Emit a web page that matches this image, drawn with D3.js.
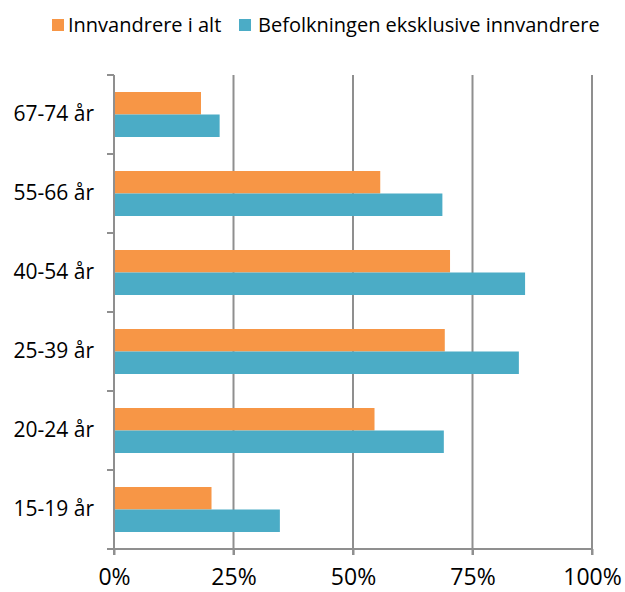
<!DOCTYPE html>
<html>
<head>
<meta charset="utf-8">
<script src="https://cdn.jsdelivr.net/npm/d3@7"></script>
<style>
  html, body { margin: 0; padding: 0; background: #fff; }
  svg { display: block; }
  text { font-family: "Open Sans", "Liberation Sans", sans-serif; fill: #000; }
</style>
</head>
<body>
<svg id="chart" width="625" height="592"></svg>
<script>
const categories = ["67-74 år", "55-66 år", "40-54 år", "25-39 år", "20-24 år", "15-19 år"];
const seriesNames = ["Innvandrere i alt", "Befolkningen eksklusive innvandrere"];
const innvandrere = [0.182, 0.557, 0.703, 0.692, 0.545, 0.204];
const befolkningen = [0.221, 0.687, 0.860, 0.847, 0.690, 0.347];
const tickValues = [0, 0.25, 0.5, 0.75, 1];
const tickLabels = ["0%", "25%", "50%", "75%", "100%"];
const colors = ["#F79646", "#4BACC6"];

const svg = d3.select("#chart");
const x = d3.scaleLinear().domain([0, 1]).range([114, 592]);
const y = d3.scaleBand().domain(categories).range([75, 549]).padding(0);
const ySub = d3.scaleBand().domain(seriesNames).range([17, 62]).padding(0);

const gridColor = "#8f8f8f";

// vertical gridlines
svg.append("g").selectAll("line").data(tickValues.slice(1)).join("line")
  .attr("x1", d => x(d)).attr("x2", d => x(d))
  .attr("y1", 75).attr("y2", 555)
  .attr("stroke", gridColor).attr("stroke-width", 2);

// bars
const rows = categories.map((c, i) => ({ c, vals: [innvandrere[i], befolkningen[i]] }));
const groups = svg.append("g").selectAll("g").data(rows).join("g")
  .attr("transform", d => `translate(0,${y(d.c)})`);
groups.selectAll("rect").data(d => d.vals.map((v, j) => ({ v, s: seriesNames[j], j }))).join("rect")
  .attr("x", x(0))
  .attr("y", d => ySub(d.s))
  .attr("width", d => x(d.v) - x(0))
  .attr("height", ySub.bandwidth())
  .attr("fill", d => colors[d.j]);

// x axis
const xAxis = d3.axisBottom(x).tickValues(tickValues).tickFormat((d, i) => tickLabels[i])
  .tickSize(6).tickSizeOuter(0).tickPadding(12);
const gx = svg.append("g").attr("transform", "translate(0,549)").call(xAxis);
gx.select(".domain").attr("d", `M107,0H${x(1)}`).attr("stroke", gridColor).attr("stroke-width", 2);
gx.selectAll(".tick line").attr("stroke", gridColor).attr("stroke-width", 2);
gx.selectAll(".tick text").attr("font-family", "Open Sans").attr("font-size", 23).attr("fill", "#000").attr("dy", "0.71em").attr("y", 20);

// y axis line & separator ticks
svg.append("line").attr("x1", x(0)).attr("x2", x(0)).attr("y1", 75).attr("y2", 555)
  .attr("stroke", gridColor).attr("stroke-width", 2);
const sepYs = categories.map(c => y(c)).concat([y.range()[1]]);
svg.append("g").selectAll("line").data(sepYs).join("line")
  .attr("x1", 107).attr("x2", x(0)).attr("y1", d => d).attr("y2", d => d)
  .attr("stroke", gridColor).attr("stroke-width", 2);

// category labels
svg.append("g").selectAll("text").data(categories).join("text")
  .attr("x", 94).attr("y", d => y(d) + y.bandwidth() / 2 + 6.5)
  .attr("text-anchor", "end").attr("font-size", 21).text(d => d);

// legend
const legend = [{ name: seriesNames[0], x: 52, tx: 68 }, { name: seriesNames[1], x: 239, tx: 258 }];
const lg = svg.append("g").selectAll("g").data(legend).join("g");
lg.append("rect").attr("x", d => d.x).attr("y", 19).attr("width", 12).attr("height", 12)
  .attr("fill", (d, i) => colors[i]);
lg.append("text").attr("x", d => d.tx).attr("y", 31.5).attr("font-size", 20).text(d => d.name);
</script>
</body>
</html>
